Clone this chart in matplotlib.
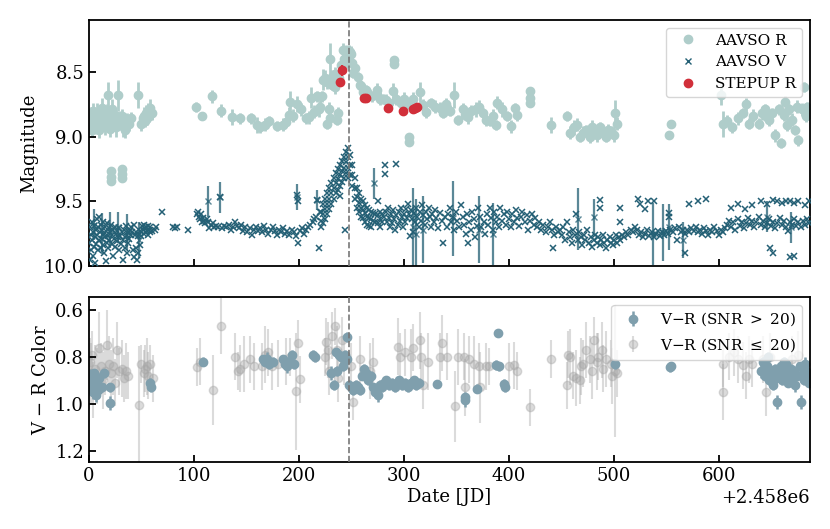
import matplotlib
matplotlib.use("Agg")
import matplotlib.pyplot as plt
from matplotlib.lines import Line2D
import numpy as np

plt.rcParams['font.family'] = ['DejaVu Serif']
plt.rcParams['mathtext.fontset'] = 'dejavuserif'
plt.rcParams['xtick.direction'] = 'in'
plt.rcParams['ytick.direction'] = 'in'

JD0 = 2458000
event_day = 248

# AAVSO V: (day, mag)
v_obs = [
    (0, 9.82), (0.5, 9.95), (1, 9.70), (1.5, 9.88), (2, 9.76), (2.5, 9.66), (3, 9.80), (3.5, 9.92), (4, 9.74), (4.5, 9.85),
    (5, 9.69), (5.5, 9.78), (6, 9.98), (6.5, 9.72), (7, 9.83), (7.5, 9.64), (8, 9.76), (8.5, 9.88), (9, 9.70), (9.5, 9.80),
    (10, 9.62), (10.5, 9.74), (11, 9.86), (11.5, 9.68), (12, 9.79), (12.5, 9.72), (13, 9.84), (13.5, 9.66), (14, 9.75), (14.5, 9.90),
    (15, 9.70), (15.5, 9.78), (16, 9.96), (16.5, 9.73), (17, 9.82), (17.5, 9.67), (18, 9.77), (18.5, 9.86), (19, 9.71), (19.5, 9.80),
    (20, 9.74), (21, 9.68), (21.5, 9.83), (22, 9.76), (22.5, 9.92), (23, 9.72), (24, 9.79), (24.5, 9.70), (25, 9.85), (26, 9.75),
    (26.5, 9.81), (27, 9.73), (28, 9.78), (28.5, 9.88), (29, 9.71), (30, 9.77), (30.5, 9.83), (31, 9.74), (32, 9.80), (32.5, 9.95),
    (33, 9.72), (34, 9.78), (34.5, 9.86), (35, 9.69), (36, 9.76), (36.5, 9.90), (37, 9.82), (38, 9.74), (38.5, 9.79), (39, 9.72),
    (40, 9.76), (40.5, 9.70), (41, 9.74), (42, 9.88), (42.5, 9.68), (43, 9.93), (44, 9.76), (44.5, 9.86), (45, 9.74), (46, 9.95),
    (46.5, 9.77), (47, 9.90), (48, 9.75), (48.5, 9.84), (49, 9.73), (50, 9.77), (50.5, 9.69), (51, 9.72), (52, 9.75), (52.5, 9.68),
    (53, 9.71), (54, 9.74), (54.5, 9.70), (55, 9.73), (56, 9.76), (56.5, 9.69), (57, 9.72), (58, 9.74), (58.5, 9.70), (60, 9.73),
    (63, 9.72), (64, 9.70), (70, 9.58), (80, 9.70), (82, 9.71), (84, 9.70), (94, 9.72),
    (103, 9.60), (104, 9.58), (105, 9.62), (106, 9.64), (107, 9.60), (108, 9.66), (109, 9.63), (110, 9.65), (111, 9.67), (112, 9.64),
    (113, 9.66), (114, 9.71), (116, 9.68), (118, 9.67), (119, 9.70), (121, 9.69), (123, 9.70), (125, 9.47), (127, 9.71), (129, 9.69),
    (131, 9.70), (133, 9.68), (135, 9.72), (137, 9.70), (139, 9.66), (141, 9.69), (143, 9.71), (145, 9.68), (147, 9.73), (149, 9.70),
    (151, 9.74), (153, 9.71), (155, 9.76), (157, 9.72), (159, 9.70), (161, 9.73), (163, 9.71), (165, 9.74), (167, 9.69), (169, 9.72),
    (171, 9.75), (173, 9.72), (175, 9.70), (177, 9.73), (179, 9.76), (181, 9.72), (183, 9.74), (185, 9.71), (187, 9.75), (189, 9.73),
    (191, 9.76), (193, 9.72), (195, 9.74), (197, 9.77), (198, 9.45), (199, 9.50), (199.5, 9.82), (201, 9.73), (203, 9.71), (205, 9.75),
    (207, 9.72), (209, 9.70), (211, 9.68), (213, 9.66), (214, 9.64), (216, 9.62), (217, 9.49), (219, 9.86), (220, 9.58),
    (221, 9.58), (221, 9.65), (221, 9.70), (223, 9.52), (223, 9.60), (223, 9.67), (225, 9.48), (225, 9.56), (225, 9.64), (227, 9.44),
    (227, 9.52), (227, 9.60), (229, 9.40), (229, 9.48), (229, 9.56), (231, 9.36), (231, 9.44), (231, 9.52), (233, 9.32), (233, 9.40),
    (233, 9.48), (235, 9.28), (235, 9.36), (235, 9.44), (237, 9.25), (237, 9.33), (237, 9.41), (239, 9.22), (239, 9.30), (239, 9.38),
    (239, 9.46), (241, 9.19), (241, 9.27), (241, 9.35), (243, 9.16), (243, 9.24), (243, 9.32), (244, 9.72), (245, 9.12), (245, 9.20),
    (245, 9.28), (247, 9.09), (247, 9.16), (247, 9.24), (247, 9.32), (249, 9.14), (249, 9.22), (249, 9.30), (251, 9.22), (251, 9.30),
    (251, 9.38), (253, 9.32), (253, 9.40), (253, 9.48), (255, 9.40), (255, 9.47), (255, 9.55), (257, 9.44), (257, 9.51), (257, 9.58),
    (259, 9.48), (259, 9.55), (259, 9.62), (261, 9.50), (261, 9.57), (261, 9.63), (263, 9.53), (263, 9.59), (263, 9.66), (265, 9.55),
    (265, 9.62), (265, 9.68), (267, 9.57), (267, 9.63), (267, 9.69), (269, 9.58), (269, 9.64), (269, 9.70), (271, 9.59), (271, 9.65),
    (273, 9.60), (273, 9.66), (275, 9.61), (275, 9.67), (275, 9.50), (277, 9.58), (277, 9.64), (277, 9.70), (279, 9.60), (279, 9.66),
    (281, 9.62), (282.5, 9.22), (282.5, 9.29), (283, 9.58), (284, 9.66), (285, 9.55), (286, 9.63), (287, 9.70), (288, 9.60), (289, 9.67),
    (290, 9.57), (291, 9.64), (292, 9.72), (293, 9.21), (293, 9.61), (294, 9.68), (295, 9.58), (296, 9.65), (297, 9.55), (298, 9.62),
    (299, 9.70), (300, 9.60), (301, 9.66), (302, 9.56), (303, 9.63), (304, 9.52), (305, 9.60), (306, 9.77), (307, 9.57), (308, 9.64),
    (309, 9.74), (310, 9.59), (311, 9.66), (312, 9.55), (313, 9.62), (314, 9.70), (315, 9.58), (316, 9.65), (317, 9.53), (318, 9.61),
    (320, 9.68), (321, 9.58), (322, 9.64), (324, 9.55), (325, 9.62), (326, 9.70), (327, 9.60), (329, 9.66), (330, 9.57), (331, 9.63),
    (333, 9.71), (334, 9.59), (336, 9.65), (337, 9.82), (339, 9.62), (341, 9.70), (342, 9.60), (344, 9.55), (345, 9.66), (347, 9.62),
    (348, 9.72), (350, 9.58), (351, 9.65), (353, 9.70), (354, 9.53), (356, 9.62), (357, 9.68), (359, 9.75), (360, 9.60), (361, 9.82),
    (362, 9.66), (364, 9.72), (365, 9.58), (367, 9.64), (368, 9.78), (370, 9.69), (371, 9.55), (373, 9.62), (374, 9.70), (376, 9.66),
    (377, 9.75), (379, 9.60), (380, 9.68), (382, 9.55), (383, 9.63), (385, 9.72), (386, 9.58), (388, 9.66), (389, 9.62), (391, 9.70),
    (392, 9.55), (394, 9.65), (395, 9.60), (397, 9.68), (398, 9.58), (400, 9.64), (402, 9.70), (403, 9.60), (405, 9.66), (407, 9.57),
    (408, 9.63), (410, 9.69), (412, 9.62), (413, 9.58), (415, 9.66), (417, 9.61), (418, 9.72), (420, 9.65), (422, 9.60), (424, 9.68),
    (425, 9.63), (427, 9.70), (429, 9.66), (431, 9.72), (433, 9.68), (435, 9.74), (437, 9.70), (439, 9.66), (441, 9.72), (442, 9.86),
    (443, 9.76), (445, 9.70), (447, 9.74), (449, 9.72), (451, 9.76), (452, 9.70), (454, 9.80), (455, 9.66), (457, 9.74), (458, 9.78),
    (460, 9.82), (461, 9.72), (463, 9.76), (464, 9.60), (466, 9.80), (467, 9.74), (469, 9.78), (470, 9.84), (472, 9.76), (473, 9.80),
    (475, 9.72), (476, 9.82), (478, 9.78), (479, 9.85), (481, 9.80), (482, 9.76), (484, 9.82), (485, 9.78), (487, 9.84), (487, 9.49),
    (487, 9.55), (488, 9.80), (490, 9.76), (491, 9.82), (493, 9.86), (494, 9.80), (496, 9.78), (497, 9.82), (499, 9.84), (500, 9.80),
    (502, 9.76), (503, 9.82), (505, 9.78), (506, 9.55), (506, 9.66), (506, 9.80), (508, 9.76), (510, 9.78), (512, 9.74), (514, 9.76),
    (516, 9.72), (518, 9.74), (520, 9.70), (522, 9.72), (523, 9.48), (524, 9.76), (525, 9.52), (526, 9.74), (528, 9.78), (530, 9.75),
    (530, 9.56), (532, 9.72), (533, 9.50), (534, 9.77), (536, 9.74), (538, 9.78), (538, 9.50), (540, 9.75), (542, 9.73), (544, 9.77),
    (546, 9.74), (548, 9.76), (550, 9.73), (552, 9.75), (553, 9.59), (553, 9.62), (554, 9.72), (556, 9.74), (558, 9.71), (560, 9.80),
    (562, 9.70), (564, 9.74), (566, 9.72), (568, 9.90), (568, 9.75), (570, 9.72), (572, 9.52), (572, 9.74), (574, 9.71), (576, 9.73),
    (578, 9.70), (580, 9.50), (580, 9.74), (582, 9.72), (584, 9.75), (586, 9.71), (588, 9.48), (588, 9.73), (590, 9.76), (592, 9.72),
    (594, 9.74), (596, 9.70), (598, 9.73), (600, 9.76), (602, 9.72), (604, 9.74), (606, 9.71), (608, 9.68), (610, 9.65), (612, 9.70),
    (612, 9.55), (614, 9.66), (616, 9.72), (618, 9.64), (618, 9.52), (620, 9.69), (622, 9.66), (624, 9.71), (625, 9.56), (626, 9.67),
    (628, 9.63), (630, 9.68), (632, 9.65), (632, 9.53), (634, 9.70), (636, 9.66), (638, 9.62), (640, 9.68), (640, 9.50), (642, 9.65),
    (644, 9.70), (646, 9.67), (646, 9.52), (648, 9.64), (649, 9.86), (650, 9.69), (652, 9.66), (652, 9.49), (652, 9.90), (654, 9.71),
    (656, 9.67), (656, 9.50), (658, 9.63), (660, 9.68), (660, 9.51), (662, 9.65), (664, 9.70), (664, 9.50), (666, 9.73), (668, 9.66),
    (668, 9.50), (668, 9.93), (670, 9.68), (672, 9.64), (672, 9.51), (672, 9.92), (674, 9.69), (676, 9.66), (676, 9.50), (678, 9.70),
    (680, 9.65), (682, 9.68), (682, 9.53), (684, 9.64), (686, 9.67), (686, 9.50),
]

# AAVSO V points with large error bars: (day, mag, err)
v_err_obs = [
    (5, 9.68, 0.12), (12, 9.75, 0.16), (20, 9.72, 0.14), (28, 9.70, 0.12), (36, 9.74, 0.14), (48, 9.80, 0.14),
    (113, 9.50, 0.12), (125, 9.47, 0.12), (198, 9.47, 0.10), (217, 9.49, 0.08), (272, 9.36, 0.12),
    (309, 9.70, 0.30), (312, 9.75, 0.27), (318, 9.72, 0.26), (347, 9.63, 0.29), (372, 9.72, 0.26),
    (385, 9.75, 0.24), (466, 9.64, 0.24), (481, 9.62, 0.14), (537, 9.75, 0.24), (547, 9.74, 0.22),
    (553, 9.70, 0.18), (566, 9.80, 0.14), (646, 9.62, 0.12), (669, 9.70, 0.12),
]

# AAVSO R: (day, mag, err)
r_obs = [
    (0, 8.88, 0.05), (1, 8.92, 0.06), (2, 8.85, 0.08), (3, 8.95, 0.05), (4, 8.80, 0.06), (5, 8.90, 0.05), (6, 8.86, 0.07),
    (7, 8.93, 0.05), (8, 8.82, 0.08), (9, 8.88, 0.05), (10, 8.95, 0.06), (11, 8.86, 0.05), (12, 8.78, 0.08), (13, 8.90, 0.06),
    (14, 8.84, 0.05), (15, 8.92, 0.07), (16, 8.87, 0.05), (17, 8.81, 0.06), (18, 8.68, 0.10), (19, 8.89, 0.05), (20, 8.94, 0.06),
    (21, 8.85, 0.05), (22, 8.79, 0.08), (23, 8.91, 0.05), (24, 8.87, 0.06), (25, 8.83, 0.05), (26, 8.93, 0.07), (27, 8.88, 0.05),
    (28, 8.68, 0.12), (29, 8.90, 0.05), (30, 8.86, 0.06), (31, 8.84, 0.05), (32, 8.92, 0.08), (33, 8.88, 0.05), (34, 8.95, 0.06),
    (36, 8.87, 0.05), (38, 8.90, 0.06), (40, 8.86, 0.05), (47, 8.68, 0.10), (50, 8.90, 0.06), (51, 8.86, 0.05), (52, 8.84, 0.07),
    (53, 8.88, 0.05), (54, 8.82, 0.06), (55, 8.86, 0.05), (56, 8.80, 0.06), (57, 8.84, 0.05), (58, 8.78, 0.07), (60, 8.82, 0.05),
    (21, 9.27, 0.03), (21, 9.31, 0.03), (21, 9.34, 0.03), (31, 9.25, 0.03), (31, 9.29, 0.03), (31, 9.32, 0.03),
    (102, 8.77, 0.04), (108, 8.84, 0.03), (117, 8.69, 0.05), (126, 8.80, 0.05), (136, 8.85, 0.06), (144, 8.86, 0.04),
    (154, 8.86, 0.04), (160, 8.91, 0.06), (163, 8.93, 0.04), (168, 8.91, 0.05), (172, 8.88, 0.04), (179, 8.92, 0.04),
    (185, 8.91, 0.05), (188, 8.89, 0.04), (191, 8.83, 0.06), (192, 8.73, 0.08), (194, 8.84, 0.05), (198, 8.75, 0.06),
    (202, 8.79, 0.05), (207, 8.86, 0.04), (210, 8.85, 0.05), (212, 8.70, 0.08), (214, 8.81, 0.05), (217, 8.69, 0.04),
    (219, 8.79, 0.06), (220, 8.77, 0.05), (222, 8.69, 0.04), (223, 8.56, 0.08), (225, 8.55, 0.06), (227, 8.58, 0.05),
    (227, 8.90, 0.04), (229, 8.79, 0.06), (229.5, 8.40, 0.12), (230, 8.86, 0.04), (232, 8.54, 0.05), (232, 8.60, 0.04),
    (234, 8.52, 0.06), (234, 8.62, 0.05), (236, 8.87, 0.04), (237, 8.82, 0.05), (238, 8.55, 0.05), (240, 8.45, 0.06),
    (242, 8.33, 0.05), (243, 8.40, 0.04), (245, 8.34, 0.05), (245, 8.43, 0.05), (247, 8.41, 0.04), (248, 8.34, 0.05),
    (249, 8.35, 0.04), (250, 8.36, 0.06), (251, 8.43, 0.05), (252, 8.51, 0.04), (253, 8.47, 0.05), (256, 8.54, 0.04),
    (258, 8.60, 0.05), (259, 8.61, 0.04), (261, 8.66, 0.05), (264, 8.64, 0.04), (265, 8.66, 0.05), (270, 8.69, 0.04),
    (274, 8.64, 0.05), (274, 8.68, 0.04), (277, 8.71, 0.05), (280, 8.71, 0.04), (283, 8.72, 0.05), (286, 8.74, 0.04),
    (290, 8.65, 0.06), (291, 8.41, 0.03), (291, 8.44, 0.03), (293, 8.71, 0.05), (297, 8.74, 0.04), (300, 8.71, 0.05),
    (303, 8.75, 0.04), (305, 9.00, 0.03), (305, 9.04, 0.03), (309, 8.71, 0.05), (315, 8.66, 0.08), (318, 8.76, 0.05),
    (321, 8.81, 0.05), (326, 8.74, 0.04), (330, 8.77, 0.05), (334, 8.78, 0.05), (337, 8.82, 0.04), (340, 8.75, 0.05),
    (344, 8.80, 0.04), (348, 8.68, 0.10), (352, 8.87, 0.04), (356, 8.79, 0.05), (358, 8.83, 0.04), (361, 8.85, 0.05),
    (364, 8.80, 0.04), (369, 8.79, 0.06), (372, 8.77, 0.05), (375, 8.82, 0.04), (378, 8.87, 0.05), (382, 8.88, 0.04),
    (385, 8.84, 0.05), (388, 8.91, 0.04), (389, 8.74, 0.05), (394, 8.79, 0.06), (398, 8.84, 0.04), (402, 8.92, 0.05),
    (406, 8.78, 0.04), (408, 8.83, 0.05), (420, 8.65, 0.03), (420, 8.70, 0.03), (420, 8.74, 0.03), (440, 8.91, 0.06),
    (455, 8.84, 0.04), (458, 8.97, 0.05), (462, 8.93, 0.06), (465, 8.91, 0.05), (468, 9.00, 0.04), (471, 8.97, 0.05),
    (474, 8.95, 0.04), (477, 9.00, 0.05), (479, 8.93, 0.06), (481, 8.96, 0.04), (484, 8.99, 0.05), (487, 8.93, 0.04),
    (490, 8.97, 0.05), (493, 9.00, 0.04), (495, 8.95, 0.05), (497, 8.96, 0.04), (500, 8.99, 0.05), (501, 8.82, 0.10),
    (503, 8.90, 0.05), (553, 8.99, 0.03), (555, 8.90, 0.03), (602, 8.68, 0.08), (604, 8.90, 0.10), (608, 8.88, 0.05),
    (613, 8.93, 0.04), (618, 8.86, 0.05), (623, 8.82, 0.04), (626, 8.75, 0.05), (629, 8.90, 0.04), (633, 8.84, 0.05),
    (638, 8.90, 0.04), (641, 8.82, 0.05), (644, 8.79, 0.04), (646, 8.85, 0.04), (648, 8.87, 0.05), (651, 8.82, 0.04),
    (654, 8.99, 0.05), (657, 8.79, 0.04), (659, 9.05, 0.04), (662, 8.83, 0.05), (663, 8.73, 0.04), (665, 8.91, 0.05),
    (667, 8.79, 0.04), (670, 8.87, 0.05), (673, 8.95, 0.04), (675, 8.77, 0.05), (676, 9.03, 0.04), (679, 8.79, 0.05),
    (681, 8.62, 0.04), (683, 8.84, 0.05), (684, 8.77, 0.04), (686, 8.80, 0.05),
]

# STEPUP R: (day, mag, err)
stepup_obs = [
    (239, 8.58, 0.02), (241, 8.49, 0.04), (262, 8.70, 0.01), (263.5, 8.70, 0.01), (284.5, 8.78, 0.01),
    (299, 8.80, 0.01), (309, 8.79, 0.01), (311, 8.78, 0.01), (312.5, 8.77, 0.01),
]

# V-R colour, SNR > 20: (day, colour, err)
color_hi = [
    (1, 0.88, 0.03), (2, 0.92, 0.03), (3, 0.90, 0.02), (4, 0.95, 0.03), (5, 0.87, 0.02), (6, 0.93, 0.03),
    (7, 0.96, 0.03), (8, 0.91, 0.02), (9, 0.94, 0.02), (10, 0.89, 0.02), (12, 0.93, 0.02), (14.5, 0.87, 0.02),
    (20, 0.93, 0.02), (20, 0.995, 0.03), (58, 0.91, 0.02), (59, 0.93, 0.02), (108.7, 0.82, 0.02),
    (166, 0.81, 0.02), (168, 0.82, 0.02), (170, 0.81, 0.03), (172, 0.83, 0.02), (175, 0.82, 0.02),
    (185, 0.81, 0.02), (187, 0.83, 0.02), (189, 0.84, 0.03), (191, 0.82, 0.02), (193, 0.79, 0.02),
    (195, 0.83, 0.02), (213, 0.79, 0.02), (215, 0.80, 0.02), (231, 0.87, 0.03), (233, 0.92, 0.02),
    (235, 0.78, 0.02), (236, 0.86, 0.02), (238, 0.79, 0.02), (240, 0.80, 0.02), (242, 0.84, 0.02),
    (244, 0.79, 0.02), (245.5, 0.715, 0.02), (246, 0.81, 0.02), (248, 0.92, 0.02), (250, 0.93, 0.02),
    (252, 0.94, 0.02), (254, 0.92, 0.02), (256, 0.93, 0.02), (258, 0.94, 0.02), (260, 0.88, 0.02),
    (262, 0.85, 0.02), (264, 0.87, 0.02), (266, 0.90, 0.02), (269, 0.88, 0.02), (271, 0.93, 0.02),
    (273, 0.95, 0.02), (275, 0.96, 0.03), (277, 0.92, 0.02), (279, 0.93, 0.02), (281, 0.91, 0.02),
    (283, 0.90, 0.02), (286, 0.92, 0.02), (289, 0.91, 0.02), (292, 0.93, 0.02), (295, 0.90, 0.02),
    (298, 0.92, 0.02), (301, 0.91, 0.02), (304, 0.93, 0.02), (307, 0.91, 0.02), (310, 0.90, 0.02),
    (312, 0.92, 0.02), (314, 0.91, 0.02), (332, 0.915, 0.01), (358, 0.985, 0.03), (358, 0.97, 0.02),
    (370, 0.935, 0.02), (389.7, 0.70, 0.01), (388, 0.835, 0.02), (391, 0.84, 0.02), (395, 0.915, 0.02),
    (396, 0.93, 0.02), (501, 0.83, 0.02), (554, 0.845, 0.02), (555, 0.84, 0.02),
    (640, 0.86, 0.03), (642, 0.82, 0.02), (644, 0.88, 0.02), (646, 0.84, 0.02), (647, 0.80, 0.02),
    (648, 0.90, 0.02), (649, 0.86, 0.03), (651, 0.88, 0.02), (652, 0.92, 0.02), (654, 0.85, 0.02),
    (655, 0.89, 0.02), (656, 0.99, 0.03), (657, 0.87, 0.02), (659, 0.84, 0.02), (660, 0.90, 0.02),
    (661, 0.86, 0.02), (662, 0.82, 0.02), (663, 0.88, 0.02), (664, 0.83, 0.02), (666, 0.91, 0.02),
    (667, 0.87, 0.02), (669, 0.85, 0.02), (670, 0.89, 0.02), (672, 0.86, 0.02), (673, 0.92, 0.03),
    (675, 0.88, 0.02), (677, 0.84, 0.02), (678.7, 0.99, 0.03), (680, 0.87, 0.02), (681, 0.90, 0.02),
    (682, 0.83, 0.03), (683, 0.86, 0.02), (685, 0.88, 0.02), (686, 0.91, 0.02),
]

# V-R colour, SNR <= 20: (day, colour, err)
color_lo = [
    (0, 0.90, 0.12), (1, 0.82, 0.10), (2, 0.87, 0.13), (3, 0.79, 0.10), (4, 0.94, 0.12), (6, 0.85, 0.10),
    (8, 0.88, 0.12), (10, 0.76, 0.15), (11, 0.84, 0.10), (13, 0.90, 0.12), (15, 0.86, 0.10), (17, 0.75, 0.15),
    (19, 0.83, 0.12), (21, 0.87, 0.10), (23, 0.84, 0.12), (25, 0.91, 0.10), (27, 0.77, 0.12), (29, 0.86, 0.10),
    (31, 0.85, 0.12), (33, 0.89, 0.10), (35, 0.86, 0.12), (37, 0.88, 0.10), (47.6, 1.004, 0.25), (50, 0.83, 0.08),
    (52, 0.87, 0.10), (53, 0.85, 0.10), (55, 0.84, 0.12), (56, 0.88, 0.10), (58, 0.83, 0.08), (61, 0.89, 0.10),
    (103, 0.844, 0.08), (106, 0.82, 0.10), (118, 0.94, 0.15), (126, 0.667, 0.12), (139, 0.80, 0.10),
    (142, 0.86, 0.08), (144, 0.85, 0.10), (148, 0.83, 0.12), (153, 0.81, 0.10), (157, 0.84, 0.10),
    (165, 0.84, 0.10), (168, 0.79, 0.12), (171, 0.78, 0.10), (174, 0.84, 0.10), (180, 0.83, 0.10),
    (188, 0.82, 0.10), (192, 0.80, 0.08), (197, 0.947, 0.25), (199, 0.742, 0.10), (201, 0.895, 0.10),
    (225, 0.80, 0.08), (226, 0.735, 0.10), (228, 0.77, 0.12), (229, 0.86, 0.10), (232, 0.71, 0.10),
    (234, 0.67, 0.08), (236, 0.77, 0.10), (237, 0.89, 0.10), (241, 0.73, 0.10), (243, 0.82, 0.10),
    (250, 0.84, 0.10), (252, 0.99, 0.08), (258, 0.81, 0.10), (268, 0.86, 0.12), (271, 0.82, 0.10),
    (294, 0.756, 0.12), (296, 0.80, 0.10), (301, 0.78, 0.10), (307, 0.80, 0.12), (309, 0.76, 0.10),
    (315, 0.73, 0.12), (316, 0.80, 0.10), (318, 0.92, 0.10), (323, 0.82, 0.12), (334, 0.80, 0.10),
    (336, 0.74, 0.12), (341, 0.80, 0.10), (348.6, 1.01, 0.15), (352, 0.80, 0.12), (357, 0.80, 0.10),
    (358, 0.93, 0.12), (362, 0.81, 0.10), (367, 0.83, 0.12), (372, 0.84, 0.10), (373, 0.93, 0.15),
    (378, 0.84, 0.10), (381, 0.84, 0.08), (400, 0.84, 0.10), (405, 0.835, 0.10), (408, 0.86, 0.08),
    (420, 1.015, 0.08), (440.6, 0.808, 0.08), (455, 0.92, 0.10), (456, 0.79, 0.10), (458, 0.80, 0.12),
    (461, 0.88, 0.10), (464, 0.89, 0.12), (468, 0.90, 0.10), (469, 0.84, 0.12), (471, 0.83, 0.10),
    (474, 0.77, 0.12), (477, 0.81, 0.10), (479, 0.86, 0.12), (481, 0.73, 0.10), (484, 0.82, 0.12),
    (485, 0.80, 0.10), (489, 0.77, 0.12), (490, 0.85, 0.10), (493, 0.81, 0.12), (497, 0.83, 0.10),
    (498, 0.88, 0.12), (501, 0.86, 0.28), (503, 0.87, 0.10), (604, 0.83, 0.10), (604, 0.95, 0.12),
    (610, 0.80, 0.10), (615, 0.78, 0.10), (618, 0.81, 0.10), (623, 0.835, 0.10), (626, 0.88, 0.10),
    (629, 0.81, 0.10), (632, 0.83, 0.10), (642, 0.81, 0.10), (645, 0.95, 0.10), (649, 0.80, 0.10),
    (670, 0.81, 0.10), (676, 0.79, 0.10),
]

c_R = '#afcdca'
c_V = '#246075'
c_step = '#d12f3a'
c_hi = '#7f9fad'
c_lo = '#a6a6a6'

fig = plt.figure(figsize=(8.3, 5.29), dpi=100)
ax1 = fig.add_axes([0.1072, 0.4972, 0.8687, 0.4650])
ax2 = fig.add_axes([0.1072, 0.1267, 0.8687, 0.3119])

# top panel: light curves
r = np.array(r_obs)
ax1.errorbar(r[:, 0] + JD0, r[:, 1], yerr=r[:, 2], fmt='o', color=c_R, ms=6,
             elinewidth=2, capsize=0, zorder=1)

v = np.array(v_obs)
ve = np.array(v_err_obs)
ax1.errorbar(ve[:, 0] + JD0, ve[:, 1], yerr=ve[:, 2], fmt='x', color=c_V, ms=5,
             elinewidth=1.6, alpha=0.75, capsize=0, zorder=2)
ax1.plot(v[:, 0] + JD0, v[:, 1], 'x', color=c_V, ms=5, mew=1.1, zorder=3)

s = np.array(stepup_obs)
ax1.errorbar(s[:, 0] + JD0, s[:, 1], yerr=s[:, 2], fmt='o', color=c_step, ms=6,
             elinewidth=1.6, capsize=0, zorder=4)

ax1.axvline(event_day + JD0, color='#777777', ls='--', lw=1.2, zorder=5)
ax1.set_ylim(10.0, 8.1)
ax1.set_yticks([8.5, 9.0, 9.5, 10.0])
ax1.set_ylabel('Magnitude', fontsize=13)
ax1.tick_params(labelbottom=False)

handles = [
    Line2D([], [], marker='o', ls='none', color=c_R, ms=6, label='AAVSO R'),
    Line2D([], [], marker='x', ls='none', color=c_V, ms=5, label='AAVSO V'),
    Line2D([], [], marker='o', ls='none', color=c_step, ms=6, label='STEPUP R'),
]
ax1.legend(handles=handles, loc='upper right', fontsize=11)

# bottom panel: colour
lo = np.array(color_lo)
hi = np.array(color_hi)
ax2.errorbar(lo[:, 0] + JD0, lo[:, 1], yerr=lo[:, 2], fmt='o', color=c_lo, ms=6,
             alpha=0.4, elinewidth=1.5, capsize=0, zorder=1,
             label=r'V$-$R (SNR $\leq$ 20)')
ax2.errorbar(hi[:, 0] + JD0, hi[:, 1], yerr=hi[:, 2], fmt='o', color=c_hi, ms=6,
             elinewidth=1.8, capsize=0, zorder=2,
             label=r'V$-$R (SNR $>$ 20)')
ax2.axvline(event_day + JD0, color='#777777', ls='--', lw=1.2, zorder=3)
ax2.set_ylim(1.247, 0.545)
ax2.set_yticks([0.6, 0.8, 1.0, 1.2])
ax2.set_ylabel(r'V $-$ R Color', fontsize=13)
ax2.set_xlabel('Date [JD]', fontsize=13, labelpad=2)
h, l = ax2.get_legend_handles_labels()
ax2.legend(h[::-1], l[::-1], loc='upper right', fontsize=11)

for ax in (ax1, ax2):
    ax.set_xlim(JD0, JD0 + 687)
    ax.set_xticks([JD0 + d for d in range(0, 700, 100)])
    ax.tick_params(labelsize=13, length=5, width=1.3)
    for sp in ax.spines.values():
        sp.set_linewidth(1.3)
ax2.xaxis.get_offset_text().set_fontsize(13)

fig.savefig('out.png', dpi=100)
